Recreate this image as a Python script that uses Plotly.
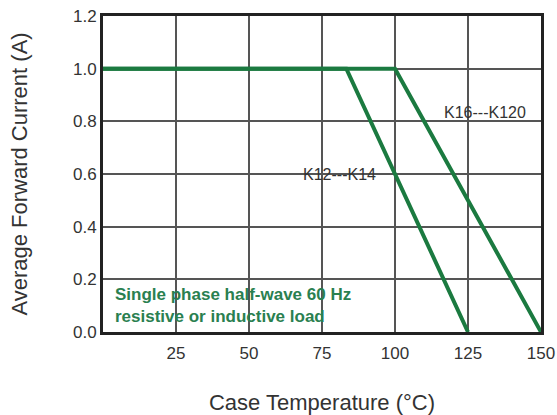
import plotly.graph_objects as go

# Data
k12_x = [0, 83.33, 125]
k12_y = [1.0, 1.0, 0.0]
k16_x = [0, 100, 150]
k16_y = [1.0, 1.0, 0.0]
x_ticks = [25, 50, 75, 100, 125, 150]
y_ticks = [0.0, 0.2, 0.4, 0.6, 0.8, 1.0, 1.2]

green = "#1b7a40"
fig = go.Figure()
fig.add_trace(go.Scatter(x=k12_x, y=k12_y, mode="lines",
                         line=dict(color=green, width=4), showlegend=False))
fig.add_trace(go.Scatter(x=k16_x, y=k16_y, mode="lines",
                         line=dict(color=green, width=4), showlegend=False))

fig.add_annotation(x=130.8, y=0.835, text="K16---K120", showarrow=False,
                   font=dict(size=16, color="#333333"))
fig.add_annotation(x=81, y=0.6, text="K12---K14", showarrow=False,
                   font=dict(size=16, color="#333333"))
fig.add_annotation(x=3.4, y=0.1, xanchor="left", yanchor="middle", align="left",
                   text="<b>Single phase half-wave 60 Hz<br>resistive or inductive load</b>",
                   showarrow=False, font=dict(size=17, color="#2a8050"))

fig.update_layout(
    width=557, height=415,
    margin=dict(l=103, r=16, t=16, b=83),
    paper_bgcolor="white", plot_bgcolor="white",
    font=dict(family="Liberation Sans, Arial, sans-serif", color="#333333"),
)
fig.update_xaxes(range=[0, 150], tickvals=x_ticks, showgrid=True, automargin=False,
                 gridcolor="#555555", gridwidth=1.5,
                 showline=True, linecolor="#222222", linewidth=3, mirror=True,
                 ticks="", ticklabelstandoff=4, tickfont=dict(size=17, color="#333333"),
                 title=dict(text="Case Temperature (°C)", font=dict(size=22, color="#333333"), standoff=34),
                 zeroline=False)
fig.update_yaxes(range=[0, 1.2], tickvals=y_ticks, tickformat=".1f", showgrid=True, automargin=False,
                 gridcolor="#555555", gridwidth=1.5,
                 showline=True, linecolor="#222222", linewidth=3, mirror=True,
                 ticks="", tickfont=dict(size=17, color="#333333"),
                 title=dict(text="Average Forward Current (A)", font=dict(size=22, color="#333333"), standoff=40),
                 zeroline=False)

fig.write_html("out.html")
